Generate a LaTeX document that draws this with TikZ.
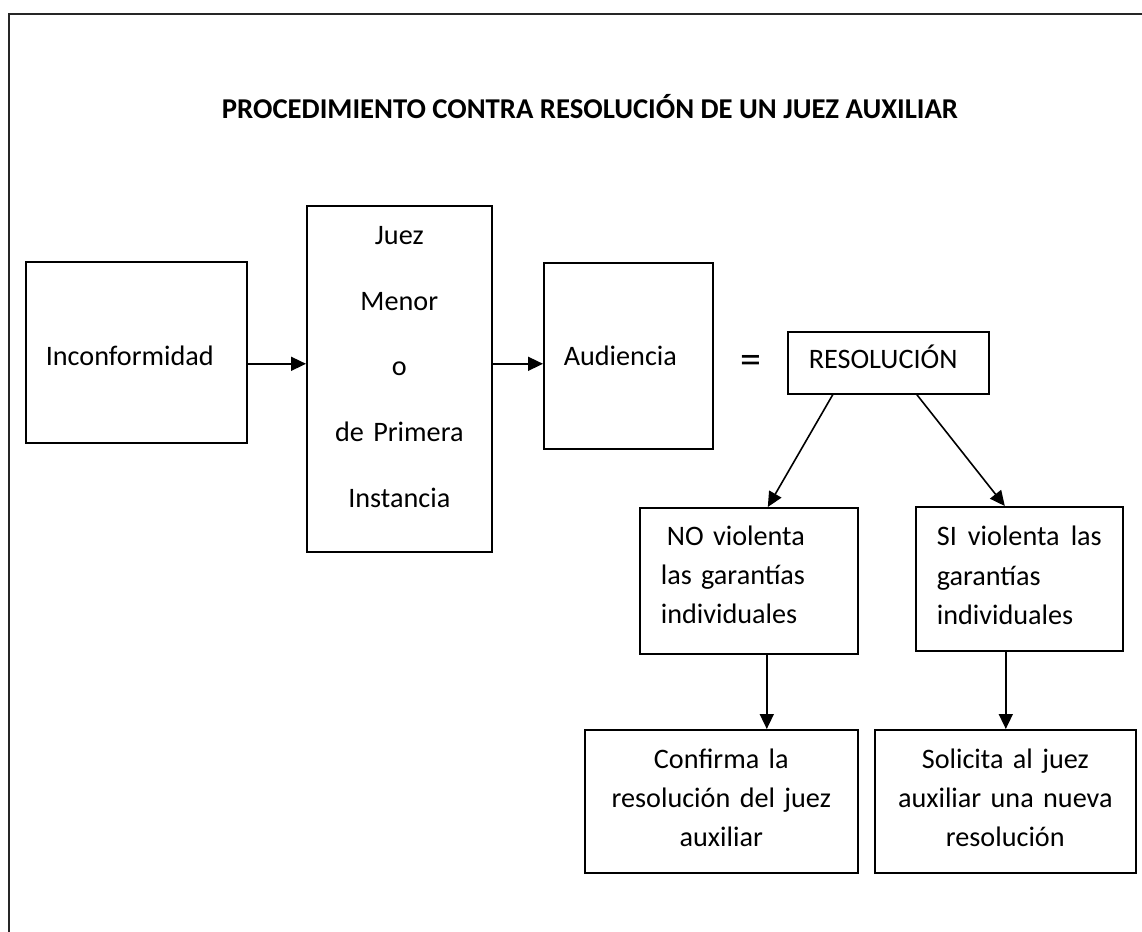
\documentclass[tikz,border=0pt]{standalone}
\usepackage{fontspec}
\setmainfont{Carlito}[WordSpace={1,0,0}]
\usetikzlibrary{arrows.meta}
\begin{document}
\begin{tikzpicture}[x=1pt,y=-1pt,
  box/.style={draw=black,line width=1.6pt,rectangle,anchor=north west,inner ysep=0pt,
    font=\fontsize{28.2pt}{39.3pt}\selectfont},
  lbox/.style={box,align=left,inner xsep=20pt},
  cbox/.style={box,align=center,inner xsep=4pt},
  arr/.style={line width=1.6pt,-{Triangle[length=15pt,width=14pt]}},
  line/.style={line width=1.6pt}]
\useasboundingbox (0,0) rectangle (1142,931);
\draw[line width=2.2pt,black!85] (9,945) -- (9,14) -- (1160,14);
\node[anchor=base,font=\fontsize{28.7pt}{33pt}\selectfont\bfseries] (title) at (590,119)
  {PROCEDIMIENTO CONTRA RESOLUCIÓN DE UN JUEZ AUXILIAR};
\node[lbox,text width=181pt,minimum height=181pt,text height=27pt,text depth=0pt] (inc) at (25,261) {Inconformidad};
\node[cbox,text width=177pt,minimum height=346pt,font=\fontsize{28.2pt}{65.7pt}\selectfont,text depth=287pt] (juez) at (306,205)
  {Juez\\Menor\\o\\de Primera\\Instancia};
\node[lbox,text width=129pt,minimum height=186pt,text height=20pt,text depth=0pt] (aud) at (543,262) {Audiencia};
\node[font=\fontsize{42pt}{48pt}\selectfont] (eq) at (751,364) {=};
\node[box,align=left,inner xsep=21pt,text width=159pt,minimum height=62pt,text height=20pt,text depth=8pt] (res) at (787,331) {RESOLUCIÓN};
\node[box,align=left,inner xsep=21pt,text width=176pt,minimum height=146pt,text depth=90.6pt] (no) at (639,507)
  {\hspace*{6pt}NO violenta\\las garantías\\individuales};
\node[box,align=left,inner xsep=21pt,text width=165pt,minimum height=144pt,text depth=85.6pt] (si) at (915,506)
  {SI\hfill violenta\hfill las\\garantías\\individuales};
\node[cbox,text width=265pt,minimum height=143pt,text depth=85.6pt] (conf) at (584,729)
  {Confirma la\\resolución del juez\\auxiliar};
\node[cbox,text width=253pt,minimum height=143pt,text depth=85.6pt] (sol) at (874,729)
  {Solicita al juez\\auxiliar una nueva\\resolución};
\draw[arr] ([yshift=-11.5pt]inc.east) -- ([yshift=-11.5pt]inc.east -| juez.west);
\draw[arr] ([yshift=-8pt]aud.west -| juez.east) -- ([yshift=-8pt]aud.west);
\draw[arr] ([xshift=-55.5pt]res.south) -- ([xshift=19pt]no.north);
\draw[arr] ([xshift=28.5pt]res.south) -- ([xshift=-14.5pt]si.north);
\draw[arr] ([xshift=18pt]no.south) -- ([xshift=18pt]no.south |- conf.north);
\draw[arr] ([xshift=-13.5pt]si.south) -- ([xshift=-13.5pt]si.south |- sol.north);
\end{tikzpicture}
\end{document}
